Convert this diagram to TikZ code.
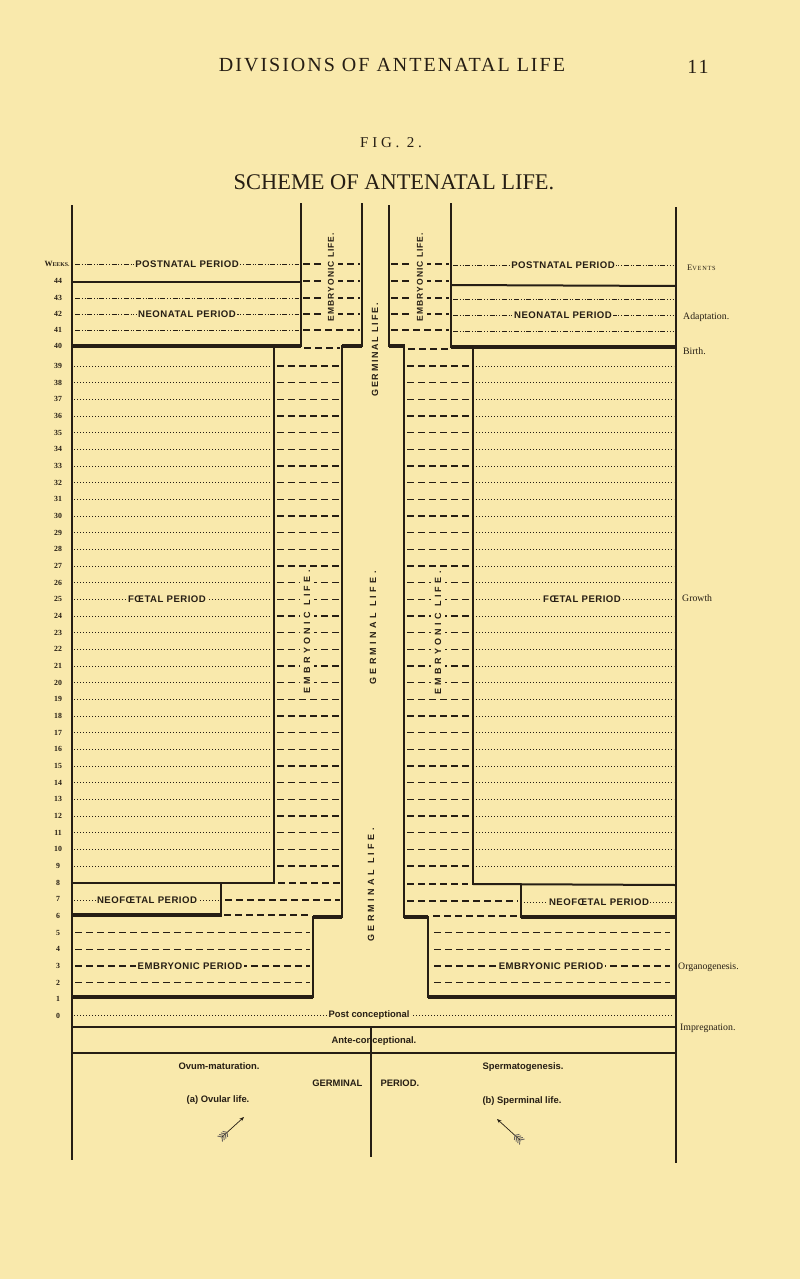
\documentclass[tikz,border=0pt]{standalone}
\usepackage{fontspec}
\setmainfont{Liberation Serif}
\newfontfamily\lab{Liberation Sans}
\newfontfamily\labw[LetterSpace=5]{Liberation Sans}
\newfontfamily\labsp[LetterSpace=38]{Liberation Sans}
\newfontfamily\labspa[LetterSpace=12]{Liberation Sans}
\newfontfamily\labspg[LetterSpace=19]{Liberation Sans}
\newfontfamily\headsp[LetterSpace=10]{Liberation Serif}
\newfontfamily\figsp[LetterSpace=25]{Liberation Serif}
\usetikzlibrary{arrows.meta,calc}
\definecolor{paper}{RGB}{249,233,172}
\definecolor{ink}{RGB}{38,30,20}
\tikzset{
  frame/.style={ink, line width=1.4pt},
  heavy/.style={ink, line width=3.2pt},
  medium/.style={ink, line width=2pt},
  dotrow/.style={ink, line width=0.8pt, dash pattern=on 0.8pt off 2.2pt},
  dashrow/.style={ink, line width=1.1pt, dash pattern=on 6.5pt off 4.5pt},
  dashdot/.style={ink, line width=0.9pt, dash pattern=on 5pt off 1.8pt on 0.9pt off 1.8pt on 0.9pt off 1.8pt},
  mask/.style={fill=paper, inner sep=1.5pt},
  lbl/.style={font=\labw\bfseries\fontsize{9.6}{10}\selectfont, text=ink},
  blbl/.style={font=\lab\bfseries\fontsize{9.4}{10}\selectfont, text=ink},
  wk/.style={font=\bfseries\fontsize{7.8}{8}\selectfont, text=ink},
  evt/.style={font=\fontsize{9.8}{10}\selectfont, text=ink, anchor=west, inner sep=0pt},
  vlab/.style={rotate=90, fill=paper, inner xsep=2pt, inner ysep=3.5pt, text=ink},
}
\begin{document}
\begin{tikzpicture}[x=1pt,y=-1pt]
\fill[paper] (0,0) rectangle (800,1279);
\useasboundingbox (0,0) rectangle (800,1279);

% titles
\node[text=ink, font=\headsp\fontsize{20}{21}\selectfont] (hd) at (392,65) {DIVISIONS OF ANTENATAL LIFE};
\node[text=ink, font=\headsp\fontsize{20}{21}\selectfont] (pg) at (698,67) {11};
\node[text=ink, font=\figsp\fontsize{15}{16}\selectfont] (fig) at (391,143) {FIG. 2.};
\node[text=ink, font=\fontsize{22.4}{24}\selectfont] (ttl) at (394,182) {SCHEME OF ANTENATAL LIFE.};

% week labels
\node[wk] (wks) at (57,264) {{\fontsize{8}{8}\selectfont W}{\fontsize{5.8}{6}\selectfont EEKS.}};
\foreach \n/\yy in {44/281,43/298,42/314,41/330,40/346}
  \node[wk] (w\n) at (58,\yy) {\n};
\foreach \n in {0,...,39}{
  \pgfmathsetmacro\yy{366+(39-\n)*16.667}
  \node[wk] (w\n) at (58,\yy) {\n};
}

% upper rows (postnatal / neonatal)
\foreach \yy in {264,298,314,330}{
  \draw[dashdot] (75,\yy) -- (299,\yy);
  \draw[dashdot] (453,\yy+1) -- (674,\yy+1);
}
\foreach \yy in {264,281,298,314,330}{
  \draw[dashrow] (303,\yy) -- (360,\yy);
  \draw[dashrow] (391,\yy) -- (449,\yy);
}
\draw[dashrow] (304,348) -- (340,348);
\draw[dashrow] (408,349) -- (449,349);

% foetal rows
\foreach \n in {9,...,39}{
  \pgfmathsetmacro\yy{366+(39-\n)*16.667}
  \draw[dotrow] (74,\yy) -- (271,\yy);
  \draw[dotrow] (476,\yy) -- (674,\yy);
  \draw[dashrow] (277,\yy) -- (340,\yy);
  \draw[dashrow] (407,\yy) -- (471,\yy);
}
% rows 8, 7, 6
\draw[dashrow] (278,883) -- (340,883);
\draw[dashrow] (407,884) -- (468,884);
\draw[dotrow] (74,900) -- (219,900);
\draw[dotrow] (524,902) -- (674,902);
\draw[dashrow] (225,900) -- (340,900);
\draw[dashrow] (407,901) -- (518,901);
\draw[dashrow] (224,915) -- (310,915);
\draw[dashrow] (433,916) -- (518,916);
% rows 5..2
\foreach \n in {2,...,5}{
  \pgfmathsetmacro\yy{366+(39-\n)*16.667}
  \draw[dashrow] (75,\yy) -- (310,\yy);
  \draw[dashrow] (434,\yy) -- (670,\yy);
}
% row 0
\draw[dotrow] (74,1015) -- (673,1015);

% thick horizontals
\draw[medium] (72,282) -- (301,282);
\draw[heavy] (72,346) -- (301,346);
\draw[heavy] (342,346) -- (362,346);
\draw[heavy] (389,346) -- (405,346);
\draw[medium] (451,285) -- (676,286);
\draw[heavy] (451,347) -- (676,347);
\draw[medium] (72,883) -- (274,883);
\draw[medium] (473,884) -- (676,885);
\draw[heavy] (72,915) -- (221,915);
\draw[heavy] (521,917) -- (676,917);
\draw[heavy] (313,917) -- (342,917);
\draw[heavy] (404,917) -- (428,917);
\draw[heavy] (72,997) -- (313,997);
\draw[heavy] (428,997) -- (676,997);
\draw[medium] (72,1027) -- (676,1027);
\draw[medium] (72,1053) -- (676,1053);

% verticals
\draw[frame] (72,205) -- (72,1160);
\draw[frame] (676,207) -- (676,1163);
\draw[frame] (301,203) -- (301,347);
\draw[frame] (362,203) -- (362,347);
\draw[frame] (389,205) -- (389,347);
\draw[frame] (451,203) -- (451,348);
\draw[frame] (274,348) -- (274,884);
\draw[frame] (342,345) -- (342,918);
\draw[frame] (404,345) -- (404,918);
\draw[frame] (473,348) -- (473,885);
\draw[frame] (221,883) -- (221,917);
\draw[frame] (521,885) -- (521,918);
\draw[frame] (313,916) -- (313,998);
\draw[frame] (428,916) -- (428,998);

% period labels
\node[lbl, mask] (pnl) at (187,264) {POSTNATAL PERIOD};
\node[lbl, mask] (pnr) at (563,265) {POSTNATAL PERIOD};
\node[lbl, mask] (nnl) at (187,314) {NEONATAL PERIOD};
\node[lbl, mask] (nnr) at (563,315) {NEONATAL PERIOD};
\node[lbl, mask] (ftl) at (167,599) {FŒTAL PERIOD};
\node[lbl, mask] (ftr) at (582,599) {FŒTAL PERIOD};
\node[lbl, mask] (nfl) at (147,900) {NEOFŒTAL PERIOD};
\node[lbl, mask] (nfr) at (599,902) {NEOFŒTAL PERIOD};
\node[lbl, mask] (epl) at (190,966) {EMBRYONIC PERIOD};
\node[lbl, mask] (epr) at (551,966) {EMBRYONIC PERIOD};
\node[blbl, mask] (pc) at (369,1015) {Post conceptional};

% vertical labels
\node[vlab, font=\labspa\bfseries\fontsize{8.5}{9}\selectfont] (eul) at (331,277) {EMBRYONIC LIFE.};
\node[vlab, font=\labspa\bfseries\fontsize{8.5}{9}\selectfont] (eur) at (420,277) {EMBRYONIC LIFE.};
\node[vlab, font=\labsp\bfseries\fontsize{9}{9}\selectfont] (ell) at (307,632) {EMBRYONIC LIFE.};
\node[vlab, font=\labsp\bfseries\fontsize{9}{9}\selectfont] (elr) at (438,633) {EMBRYONIC LIFE.};
\node[vlab, font=\labspg\bfseries\fontsize{9}{9}\selectfont] (g1) at (375,350) {GERMINAL LIFE.};
\node[vlab, font=\labsp\bfseries\fontsize{9}{9}\selectfont] (g2) at (373,628) {GERMINAL LIFE.};
\node[vlab, font=\labsp\bfseries\fontsize{9}{9}\selectfont] (g3) at (371,885) {GERMINAL LIFE.};

% bottom section
\node[blbl] (ac) at (374,1041) {Ante-conceptional.};
\node[blbl] (om) at (219,1066) {Ovum-maturation.};
\node[blbl] (sg) at (523,1067) {Spermatogenesis.};
\node[blbl, anchor=east] (gm) at (366,1083) {GERMINAL};
\node[blbl, anchor=west] (gp) at (377,1083) {PERIOD.};
\node[blbl] (ov) at (218,1100) {(a) Ovular life.};
\node[blbl] (sp) at (522,1101) {(b) Sperminal life.};
\draw[frame] (371,1027) -- (371,1157);

% arrows with fletching
\coordinate (lt) at (222,1137);
\coordinate (lh) at (244,1117);
\draw[ink, line width=0.7pt, -{Stealth[length=4.5pt,width=3.5pt]}] (lt) -- (lh);
\foreach \k in {0,1,2,3}{
  \draw[ink!70, line width=0.9pt] ($(lt)+(\k*1.7,-\k*1.55)$) -- ++(0.5,4.6);
  \draw[ink!70, line width=0.9pt] ($(lt)+(\k*1.7,-\k*1.55)$) -- ++(-4.5,-1.0);
}
\coordinate (rt) at (520,1140);
\coordinate (rh) at (497,1119);
\draw[ink, line width=0.7pt, -{Stealth[length=4.5pt,width=3.5pt]}] (rt) -- (rh);
\foreach \k in {0,1,2,3}{
  \draw[ink!70, line width=0.9pt] ($(rt)+(-\k*1.7,-\k*1.55)$) -- ++(4.5,-1.0);
  \draw[ink!70, line width=0.9pt] ($(rt)+(-\k*1.7,-\k*1.55)$) -- ++(-0.5,4.6);
}

% events column
\node[evt] (ev) at (687,268) {{\fontsize{8.5}{9}\selectfont E}{\fontsize{6.3}{7}\selectfont\addfontfeature{LetterSpace=12}VENTS}};
\node[evt] (ad) at (683,317) {Adaptation.};
\node[evt] (bi) at (683,351) {Birth.};
\node[evt] (gr) at (682,598) {Growth};
\node[evt] (og) at (678,967) {Organogenesis.};
\node[evt] (im) at (680,1028) {Impregnation.};
\end{tikzpicture}
\end{document}
